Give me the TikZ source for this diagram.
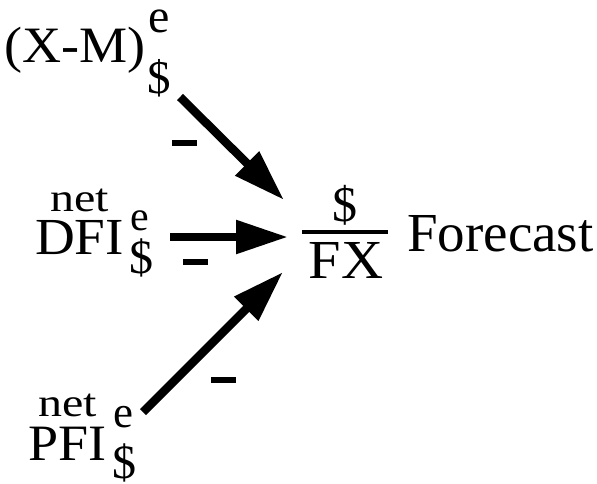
\documentclass[tikz,border=0pt]{standalone}
\usepackage{fontspec}
\setmainfont{Liberation Serif}
\newfontfamily\wideA[FakeStretch=1.06]{Liberation Serif}
\newfontfamily\wideB[FakeStretch=1.2]{Liberation Serif}
\usetikzlibrary{arrows.meta}
\begin{document}
\begin{tikzpicture}[x=1pt,y=-1pt,
  big/.style={inner sep=0pt,text height=0.66em,text depth=0pt,font=\wideA\fontsize{#1}{56}\selectfont},
  sup/.style={inner sep=0pt,text height=0.46em,text depth=0pt,font=\fontsize{#1}{52}\selectfont},
  dol/.style={inner sep=0pt,text height=0.72em,text depth=0.09em,font=\fontsize{#1}{52}\selectfont},
  tiny/.style={inner sep=0pt,text height=0.6em,text depth=0pt,font=\wideB\fontsize{40}{44}\selectfont},
  minus/.style={inner sep=0pt,fill=black,minimum width=25pt,minimum height=6pt},
  arr/.style={line width=8.5pt,-{Triangle[length=52pt,width=32pt]}}]
\useasboundingbox (0,0) rectangle (597,483);
% (X-M)
\node[big=51,anchor=base west] (xm) at (4,62) {(X-M)};
\node[sup=48,anchor=base west] (xme) at (148,32) {e};
\node[dol=47,anchor=base west] (xmd) at (147,93) {\$};
% DFI
\node[big=52,anchor=base west] (dfi) at (35,254) {DFI};
\node[tiny,anchor=base] (dfin) at (80,211) {net};
\node[sup=42,anchor=base west] (dfie) at (130,230) {e};
\node[dol=48,anchor=base west] (dfid) at (129,273) {\$};
% PFI
\node[big=51,anchor=base west] (pfi) at (28,460) {PFI};
\node[tiny,anchor=base] (pfin) at (68,416) {net};
\node[sup=45,anchor=base west] (pfie) at (113,427) {e};
\node[dol=48,anchor=base west] (pfid) at (112,478) {\$};
% fraction
\node[dol=50,anchor=base] (fd) at (345,221) {\$};
\node[big=55,anchor=base] (fx) at (346,278) {FX};
\coordinate (barl) at (302,232);
\coordinate (barr) at (388,232);
\draw[line width=4pt] (barl) -- (barr);
\node[big=55,anchor=base west,font=\fontsize{55}{60}\selectfont] (fc) at (407,251) {Forecast};
% arrows
\coordinate (s1) at (180,97);
\coordinate (t1) at (284,200);
\coordinate (s2) at (170,237);
\coordinate (t2) at (288,237);
\coordinate (s3) at (143,412);
\coordinate (t3) at (283,272);
\draw[arr] (s1) -- (t1);
\draw[arr] (s2) -- (t2);
\draw[arr] (s3) -- (t3);
% minus signs
\node[minus] (m1) at (184,143) {};
\node[minus] (m2) at (195,262) {};
\node[minus] (m3) at (223,380) {};
\end{tikzpicture}
\end{document}
